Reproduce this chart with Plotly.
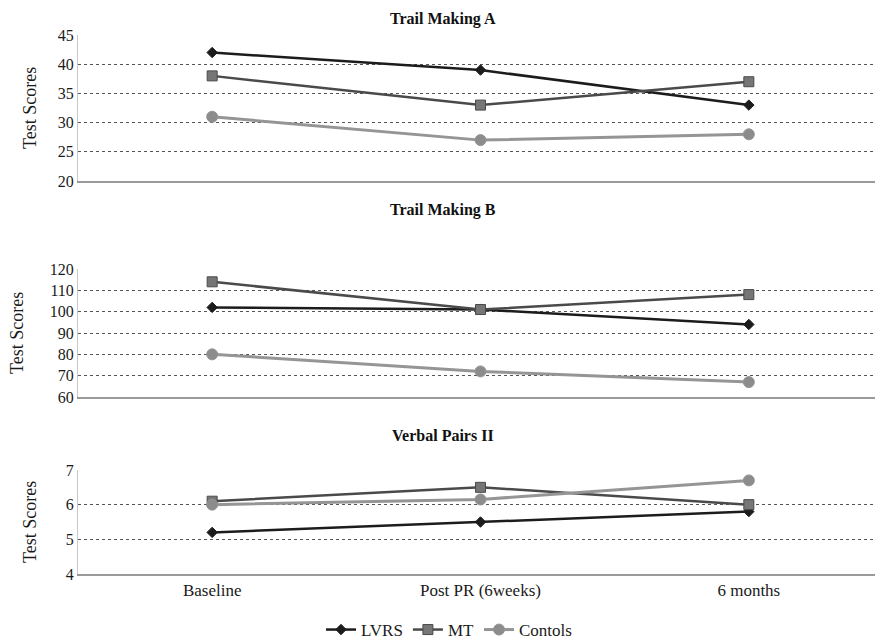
import plotly.graph_objects as go

categories = ["Baseline", "Post PR (6weeks)", "6 months"]
series_names = ["LVRS", "MT", "Contols"]

trail_a_lvrs = [42, 39, 33]
trail_a_mt = [38, 33, 37]
trail_a_ctrl = [31, 27, 28]

trail_b_lvrs = [102, 101, 94]
trail_b_mt = [114, 101, 108]
trail_b_ctrl = [80, 72, 67]

verbal_lvrs = [5.2, 5.5, 5.8]
verbal_mt = [6.1, 6.5, 6.0]
verbal_ctrl = [6.0, 6.15, 6.7]

panel_titles = ["Trail Making A", "Trail Making B", "Verbal Pairs II"]

styles = [
    dict(color="#1c1c1c", symbol="diamond", msize=8, mcolor="#1c1c1c", width=2.5),
    dict(color="#4a4a4a", symbol="square", msize=10, mcolor="#767676", width=2.5),
    dict(color="#959595", symbol="circle", msize=11, mcolor="#8c8c8c", width=3),
]

panels = [
    (trail_a_lvrs, trail_a_mt, trail_a_ctrl),
    (trail_b_lvrs, trail_b_mt, trail_b_ctrl),
    (verbal_lvrs, verbal_mt, verbal_ctrl),
]

# page body has an 8px margin; the figure is sized to fill the rest
OFF = 8
H = 642 - OFF
W = 883 - OFF
L = 78 - OFF
px_dom = [(35, 181), (269, 397), (470, 574)]
y_ranges = [(20, 45, 5), (60, 120, 10), (4, 7, 1)]


def py(v):
    return 1 - (v - OFF) / H


def px(v):
    return (v - 78) / (W - L)


fig = go.Figure()
font = "Liberation Serif, Times New Roman, serif"

for p, data in enumerate(panels):
    xa = "x" if p == 0 else f"x{p+1}"
    ya = "y" if p == 0 else f"y{p+1}"
    for s, vals in enumerate(data):
        st = styles[s]
        fig.add_trace(go.Scatter(
            x=categories, y=vals, name=series_names[s],
            xaxis=xa, yaxis=ya,
            mode="lines+markers",
            line=dict(color=st["color"], width=st["width"]),
            marker=dict(symbol=st["symbol"], size=st["msize"], color=st["mcolor"],
                        line=dict(color=st["color"], width=1)),
            showlegend=(p == 2),
        ))

layout = dict(
    width=W, height=H,
    margin=dict(l=L, r=0, t=0, b=0, autoexpand=False),
    paper_bgcolor="white", plot_bgcolor="white",
    font=dict(family=font, size=14, color="#1a1a1a"),
    showlegend=True,
    legend=dict(orientation="h", x=px(449), xanchor="center", y=py(630), yanchor="middle",
                font=dict(family=font, size=17, color="#1a1a1a"), tracegroupgap=0,
                itemwidth=30),
    annotations=[],
)

title_x_px = [30, 17, 30]
for p in range(3):
    top, bot = px_dom[p]
    xk = "xaxis" if p == 0 else f"xaxis{p+1}"
    yk = "yaxis" if p == 0 else f"yaxis{p+1}"
    ya = "y" if p == 0 else f"y{p+1}"
    lo, hi, dt = y_ranges[p]
    layout[xk] = dict(
        domain=[0, 1], anchor=ya, type="category", range=[-0.5, 2.5],
        showticklabels=(p == 2), showgrid=False, zeroline=False, automargin=False,
        showline=True, linecolor="#9a9a9a", linewidth=1.5, ticks="", ticklen=0,
        tickfont=dict(family=font, size=17, color="#1a1a1a"),
    )
    if p > 0:
        layout[xk]["matches"] = "x"
    layout[yk] = dict(
        domain=[py(bot), py(top)], range=[lo, hi], dtick=dt, tick0=lo,
        showgrid=True, gridcolor="#555", griddash="dot", gridwidth=1, automargin=False,
        zeroline=False, showline=True, linecolor="#c8c8c8", linewidth=1,
        tickfont=dict(family=font, size=16, color="#1a1a1a"),
        ticks="", anchor=("x" if p == 0 else f"x{p+1}"),
    )
    layout["annotations"].append(dict(
        text="Test Scores", xref="paper", yref="paper", textangle=-90,
        x=px(title_x_px[p]), y=py((top + bot) / 2),
        xanchor="center", yanchor="middle", showarrow=False,
        font=dict(family=font, size=18, color="#1a1a1a"),
    ))

title_y_px = [None, 210, 435]
for p in range(3):
    ann = dict(
        text=f"<b>{panel_titles[p]}</b>", xref="paper", yref="paper",
        x=px(443), xanchor="center", showarrow=False,
        font=dict(family=font, size=16, color="#111"),
    )
    if p == 0:
        ann.update(y=1.0, yanchor="top")
    else:
        ann.update(y=py(title_y_px[p]), yanchor="middle")
    layout["annotations"].append(ann)

fig.update_layout(**layout)
fig.write_html("out.html")
